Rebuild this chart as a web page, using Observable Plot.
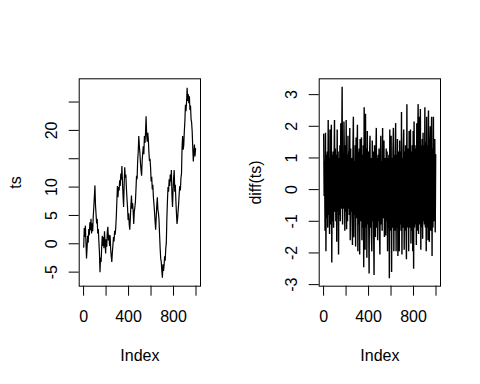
<!DOCTYPE html>
<html>
<head>
<meta charset="utf-8">
<script src="https://cdn.jsdelivr.net/npm/d3@7"></script>
<script src="https://cdn.jsdelivr.net/npm/@observablehq/plot@0.6"></script>
<style>
  html, body { margin: 0; padding: 0; background: #fff; }
  #wrap { display: flex; width: 480px; height: 384px; }
  svg { display: block; }
</style>
</head>
<body>
<div id="wrap"></div>
<script>
// ts: random walk, read every 5th index (index = 1 + 5*k)
const tsValues = [
  -0.6, 2.8, 1.2, 3.2, 0.3, -2.6, -0.8, 1.4, 0.2, 2.6,
  1.5, 3.8, 2.4, 4.4, 1.8, 3.6, 2.2, 4.8, 6.5, 8.4,
  10.3, 6.8, 5.2, 3.6, 4.4, 1.8, 2.6, 0.4, -1.5, -5.0,
  -2.4, -3.2, -0.6, 1.4, -0.4, 1.2, -0.8, 2.2, 0.3, -1.7,
  0.8, -0.5, 2.1, 3.0, 0.6, 1.6, -0.4, 1.5, -1.0, -2.2,
  -3.2, -1.5, -0.2, 1.2, 0.4, 2.3, 1.6, 2.8, 4.8, 7.5,
  10.2, 8.2, 10.0, 9.4, 11.2, 10.2, 12.4, 11.3, 13.7, 10.8,
  8.5, 6.5, 10.5, 13.5, 11.6, 12.2, 9.8, 8.0, 6.4, 4.2,
  5.4, 3.4, 2.5, 4.6, 6.8, 8.5, 6.2, 7.2, 5.8, 3.5,
  5.6, 6.4, 7.4, 9.6, 12.0, 11.4, 14.6, 16.2, 19.0, 17.2,
  16.0, 14.2, 13.0, 12.0, 14.6, 16.0, 17.2, 15.8, 19.0, 17.8,
  19.6, 22.5, 19.2, 18.0, 19.6, 18.4, 16.2, 14.6, 15.0, 13.4,
  11.0, 11.8, 9.6, 10.4, 8.2, 7.0, 5.6, 4.0, 2.5, 4.6,
  6.8, 8.2, 6.0, 5.4, 4.2, 1.6, -0.8, -2.6, -3.2, -4.8,
  -6.0, -3.6, -4.8, -3.8, -2.2, -3.0, -0.8, 0.2, 4.6, 7.6,
  10.0, 9.2, 11.4, 10.2, 12.2, 11.0, 13.0, 8.6, 6.5, 9.4,
  11.6, 13.0, 9.2, 10.4, 7.6, 5.4, 3.5, 4.4, 5.8, 7.2,
  9.0, 10.2, 9.4, 11.6, 12.4, 17.0, 19.0, 16.6, 17.4, 19.8,
  21.6, 24.5, 23.4, 25.0, 27.5, 25.2, 26.4, 24.8, 26.0, 23.6,
  24.4, 22.0, 21.4, 19.8, 17.0, 14.5, 16.2, 17.5, 15.4, 16.8
];
const tsStep = 5;

// diff(ts): read every 4th index (index = 1 + 4*k)
const diffValues = [
  1.75, -0.2, 0.9, -1.3, 1.8, -1.95, 1.1, -0.9, 1.2, -1.2,
  2.2, -0.8, 1.0, -1.4, 1.9, -1.1, 0.8, 2.05, -2.3, 1.1,
  -1.0, 1.2, -1.2, 0.9, 2.2, -0.7, 1.3, -1.0, 1.1, -1.65,
  1.9, -0.7, 1.2, -2.05, 1.0, -0.8, 1.4, -1.0, 2.1, -0.6,
  1.2, 3.25, -1.1, 1.0, -0.6, 2.15, 1.0, -1.3, 1.4, -0.7,
  2.2, -1.25, 1.1, -1.0, 1.7, -0.6, 1.2, -0.8, 1.95, -1.6,
  1.3, -0.7, 1.0, -0.9, -1.75, 1.2, 2.3, -1.5, 0.9, -0.8,
  1.4, -1.8, 1.65, -0.9, 1.0, 2.05, -1.95, 1.2, -1.1, 1.3,
  -2.05, 1.6, -1.0, 1.2, 1.65, -1.6, 1.1, -1.2, 1.4, -2.45,
  2.6, -1.0, -1.9, 2.4, -1.2, 1.3, -2.15, 1.85, -1.1, 1.2,
  -0.9, -2.65, 1.1, 1.7, -1.2, 1.0, -1.4, -1.95, 1.55, -1.0,
  1.2, -1.1, -2.7, 1.4, -0.8, -1.5, 1.1, 1.95, -1.2, 1.0,
  -1.6, 1.1, -1.0, 1.3, -1.2, -2.05, 1.0, 1.7, -1.1, 0.9,
  -1.3, 1.95, -0.9, 1.1, 1.55, -1.5, 1.0, -1.1, -1.45, 1.3,
  -1.0, 1.2, -1.95, 1.0, -1.2, 1.1, -2.8, 1.9, -1.3, 1.2,
  1.7, -2.6, 1.0, -1.2, 1.2, 1.95, -1.95, 1.1, -1.3, 1.0,
  2.1, -1.95, 1.1, -1.2, 1.6, -2.1, 1.2, -1.0, -1.95, 1.55,
  -1.1, 1.2, -1.3, 2.45, -2.05, 1.0, -1.2, 1.3, 1.9, -1.9,
  1.2, -1.3, 1.4, -1.0, -2.2, 2.7, -1.2, 1.3, 1.0, -1.95,
  1.85, -1.2, 1.1, 1.9, -1.7, 1.2, -1.3, 1.4, -1.95, 1.85,
  -2.5, 2.15, -1.2, 1.4, -1.1, 1.3, -1.75, 2.1, -1.3, 1.5,
  2.7, -1.4, 1.2, 2.3, -1.1, 2.55, -1.9, 1.4, -1.2, 1.6,
  -1.55, 1.8, -1.0, 1.4, -1.1, 2.6, -1.2, 1.5, -1.95, 2.3,
  -1.2, 1.4, -1.6, 2.5, -1.1, -1.65, 1.3, 2.0, -1.3, 1.4,
  2.3, -2.1, 1.3, -1.2, 2.3, -1.0, 1.2, 1.6, -1.35, 1.1
];
const diffStep = 4;

const xTicks = [0, 200, 400, 600, 800, 1000];
const xTickLabels = [0, 400, 800];
const tsYTicks = [-5, 0, 5, 10, 15, 20, 25];
const tsYTickLabels = [-5, 0, 5, 10, 20];
const diffYTicks = [-3, -2, -1, 0, 1, 2, 3];
const diffYTickLabels = [-3, -2, -1, 0, 1, 2, 3];
const xTitle = "Index";
const tsTitle = "ts";
const diffTitle = "diff(ts)";

const FONT = "'Liberation Sans', Arial, Helvetica, sans-serif";
const FS = 16;
const M = {left: 78.7, right: 40, top: 78.3, bottom: 98.3};

function panel(values, step, yDomain, yTicks, yLabels, yTitle, lw) {
  const data = values.map((v, i) => ({x: 1 + i * step, y: v}));
  return Plot.plot({
    width: 240,
    height: 384,
    marginLeft: M.left,
    marginRight: M.right,
    marginTop: M.top,
    marginBottom: M.bottom,
    style: {fontFamily: FONT, fontSize: FS + "px", color: "black", background: "white", overflow: "visible"},
    x: {domain: [-39, 1040], axis: null},
    y: {domain: yDomain, axis: null},
    marks: [
      Plot.line(data, {x: "x", y: "y", stroke: "black", strokeWidth: lw, strokeLinejoin: "miter"}),
      Plot.frame({stroke: "black", strokeWidth: 1}),
      Plot.axisX({ticks: xTicks, tickSize: 10, tickFormat: () => "", label: null, anchor: "bottom", stroke: "black"}),
      Plot.axisY({ticks: yTicks, tickSize: 10, tickFormat: () => "", label: null, anchor: "left", stroke: "black"}),
      Plot.text(xTickLabels, {x: d => d, text: d => String(d), frameAnchor: "bottom", dy: 36, lineAnchor: "bottom", fill: "black", fontSize: FS}),
      Plot.text(yLabels, {y: d => d, text: d => String(d), frameAnchor: "left", dx: -22, rotate: -90, lineAnchor: "bottom", textAnchor: "middle", fill: "black", fontSize: FS}),
      Plot.text([xTitle], {text: d => d, frameAnchor: "bottom", dy: 74.3, lineAnchor: "bottom", fill: "black", fontSize: FS}),
      Plot.text([yTitle], {text: d => d, frameAnchor: "left", dx: -58.2, rotate: -90, lineAnchor: "bottom", textAnchor: "middle", fill: "black", fontSize: FS})
    ]
  });
}

const wrap = document.getElementById("wrap");
wrap.appendChild(panel(tsValues, tsStep, [-7.48, 29.1], tsYTicks, tsYTickLabels, tsTitle, 1.2));
wrap.appendChild(panel(diffValues, diffStep, [-3.05, 3.5], diffYTicks, diffYTickLabels, diffTitle, 1.4));
</script>
</body>
</html>
